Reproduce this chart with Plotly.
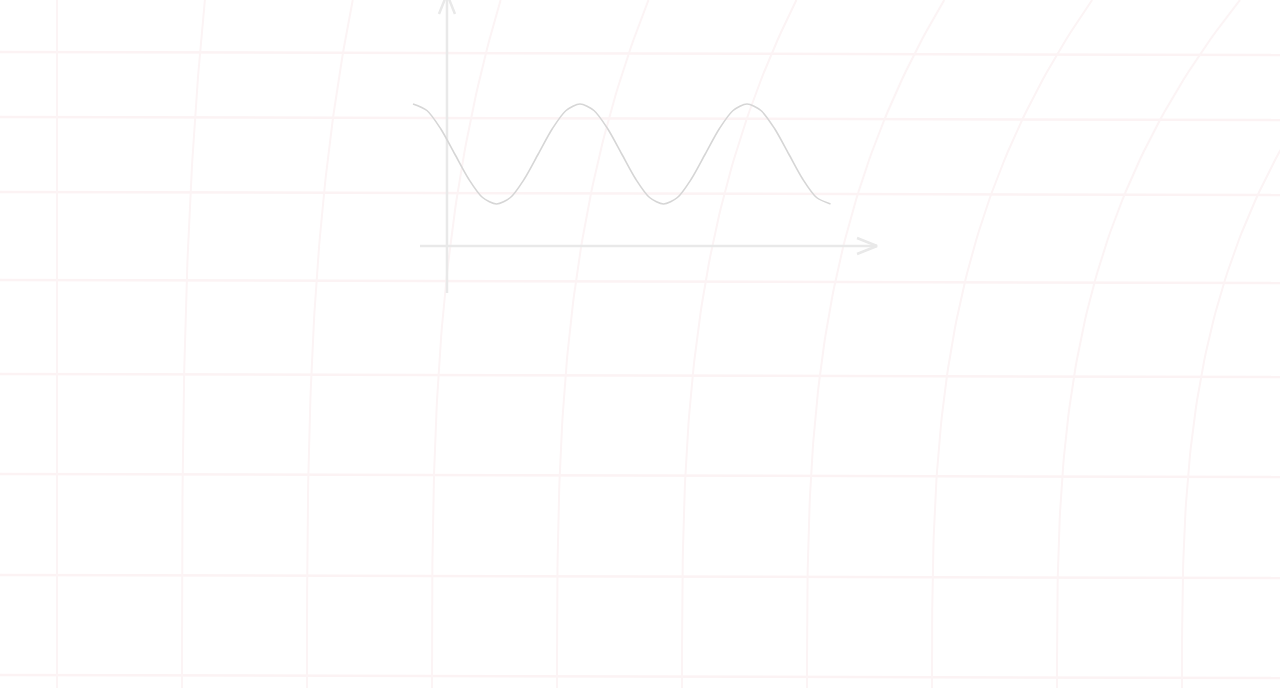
import plotly.graph_objects as go

# ---- data ----
# wave: x in half-periods, y in amplitude units
wave_x = [0, 1/6, 2/6, 3/6, 4/6, 5/6, 1, 7/6, 8/6, 9/6, 10/6, 11/6,
          2, 13/6, 14/6, 15/6, 16/6, 17/6, 3, 19/6, 20/6, 21/6, 22/6, 23/6,
          4, 25/6, 26/6, 27/6, 28/6, 29/6, 5]
wave_y = [1, 0.87, 0.5, 0, -0.5, -0.87, -1, -0.87, -0.5, 0, 0.5, 0.87,
          1, 0.87, 0.5, 0, -0.5, -0.87, -1, -0.87, -0.5, 0, 0.5, 0.87,
          1, 0.87, 0.5, 0, -0.5, -0.87, -1]

# axis of the little illustration (data units)
x_axis_level = -1.84
x_axis_span = [0.084, 5.557]
y_axis_pos = 0.407
y_axis_span = [-2.78, 3.2]

# background grid positions (screen pixels)
grid_rows_left = [52, 117, 192, 280, 374, 474, 575, 675]
grid_row_tilt = 3
grid_cols_bottom = [57, 182, 307, 432, 557, 682, 807, 932, 1057, 1182, 1307]
grid_bend = 0.183

# ---- scale between data units and the 1280x688 page ----
W, H = 1280, 688
PX0, SX = 413.0, 83.5   # pixel of x=0, pixels per unit
PY0, SY = 154.0, 50.0   # pixel of y=0, pixels per unit


def dx(px):
    return (px - PX0) / SX


def dy(py):
    return (PY0 - py) / SY


fig = go.Figure()

# background grid: horizontal rows
hx, hy = [], []
for r in grid_rows_left:
    hx += [dx(0), dx(W), None]
    hy += [dy(r), dy(r + grid_row_tilt), None]
fig.add_trace(go.Scatter(x=hx, y=hy, mode="lines",
                         line=dict(color="#fcf3f4", width=2.5),
                         hoverinfo="skip", showlegend=False))

# background grid: columns bending to the right towards the top
vx, vy = [], []
for xb in grid_cols_bottom:
    for py in range(0, H + 1, 8):
        t = (H - py) / H
        px = xb + grid_bend * (xb - grid_cols_bottom[0]) * t ** 3
        vx.append(dx(px))
        vy.append(dy(py))
    vx.append(None)
    vy.append(None)
fig.add_trace(go.Scatter(x=vx, y=vy, mode="lines",
                         line=dict(color="#fcf4f5", width=2),
                         hoverinfo="skip", showlegend=False))

# axes of the illustration
axis_col = "#e9e9e9"
head_len, head_half = 20, 8  # pixels
ax_x = [x_axis_span[0], x_axis_span[1], None,
        x_axis_span[1] - head_len / SX, x_axis_span[1],
        x_axis_span[1] - head_len / SX]
ax_y = [x_axis_level, x_axis_level, None,
        x_axis_level + head_half / SY, x_axis_level,
        x_axis_level - head_half / SY]
fig.add_trace(go.Scatter(x=ax_x, y=ax_y, mode="lines",
                         line=dict(color=axis_col, width=2.5),
                         hoverinfo="skip", showlegend=False))
ay_x = [y_axis_pos, y_axis_pos, None,
        y_axis_pos - head_half / SX, y_axis_pos, y_axis_pos + head_half / SX]
ay_y = [y_axis_span[0], y_axis_span[1], None,
        y_axis_span[1] - head_len / SY, y_axis_span[1],
        y_axis_span[1] - head_len / SY]
fig.add_trace(go.Scatter(x=ay_x, y=ay_y, mode="lines",
                         line=dict(color=axis_col, width=2.5),
                         hoverinfo="skip", showlegend=False))

# the wave
fig.add_trace(go.Scatter(x=wave_x, y=wave_y, mode="lines",
                         line=dict(color="#d6d6d6", width=1.6, shape="spline",
                                   smoothing=0.8),
                         hoverinfo="skip", showlegend=False))

fig.update_layout(
    width=W, height=H,
    margin=dict(l=0, r=0, t=0, b=0),
    paper_bgcolor="white", plot_bgcolor="white",
    xaxis=dict(range=[dx(0), dx(W)], visible=False, fixedrange=True),
    yaxis=dict(range=[dy(H), dy(0)], visible=False, fixedrange=True),
    showlegend=False,
)

fig.write_html(
    "out.html",
    config={"displayModeBar": False, "staticPlot": True},
    post_script="document.body.style.margin='0';"
                "document.body.style.overflow='hidden';",
)
